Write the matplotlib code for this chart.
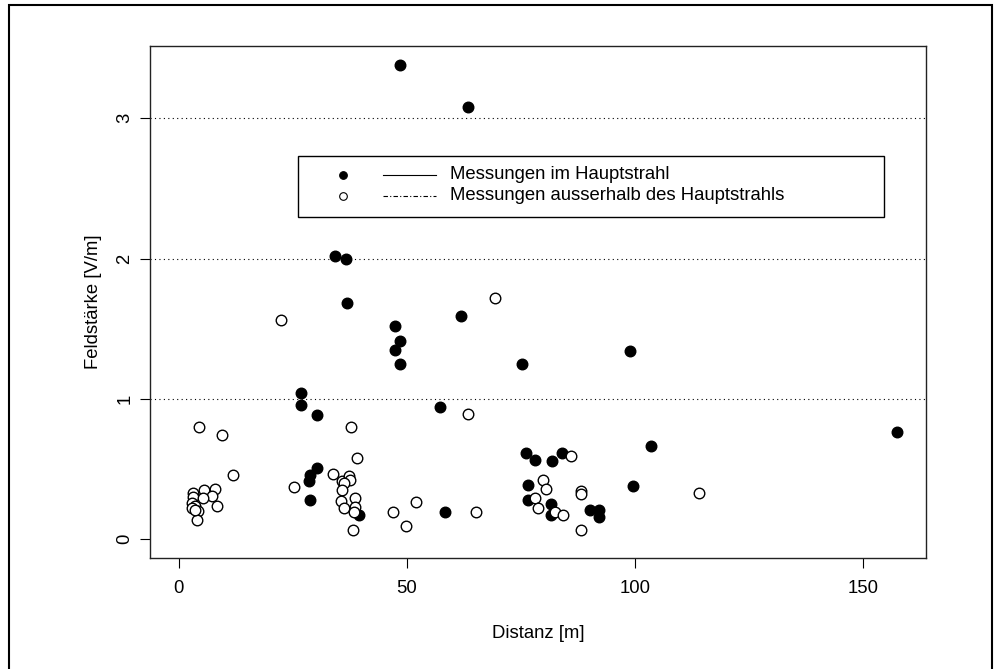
import matplotlib
matplotlib.use("Agg")
import matplotlib.pyplot as plt
from matplotlib.lines import Line2D
from matplotlib.patches import Rectangle

plt.rcParams['font.family'] = ['Liberation Sans', 'DejaVu Sans']

# Messungen im Hauptstrahl (gefuellte Punkte)
dist_main = [48.5, 63.4, 34.2, 36.6, 36.8, 61.9, 47.4, 48.6, 47.4, 48.6, 75.3,
             26.9, 26.7, 30.2, 30.2, 28.7, 28.5, 28.7, 39.5, 57.2, 76.2, 78.1,
             81.8, 84.1, 103.5, 99.5, 76.6, 76.6, 81.6, 81.6, 90.1, 92.1, 92.1,
             58.4, 98.9, 157.5]
feld_main = [3.38, 3.08, 2.02, 2.00, 1.68, 1.59, 1.52, 1.41, 1.35, 1.25, 1.25,
             1.04, 0.955, 0.886, 0.505, 0.455, 0.414, 0.28, 0.175, 0.945, 0.61, 0.565,
             0.557, 0.61, 0.665, 0.376, 0.386, 0.28, 0.252, 0.171, 0.205, 0.205, 0.157,
             0.195, 1.34, 0.76]

# Messungen ausserhalb des Hauptstrahls (offene Punkte)
dist_side = [69.4, 22.5, 4.5, 37.7, 9.5, 39.1, 11.9, 25.3, 33.9, 35.7, 37.3,
             37.5, 36.3, 35.7, 35.5, 38.6, 36.2, 38.6, 38.4, 38.3, 47.0,
             3.1, 3.1, 5.5, 8.0, 7.4, 5.3, 3.0, 3.5, 4.2, 8.3, 3.9, 3.0, 3.5,
             63.5, 86.0, 79.8, 80.5, 88.2, 88.2, 78.1, 78.7, 82.4, 84.3, 88.2,
             52.0, 49.9, 65.1, 114.0]
feld_side = [1.72, 1.56, 0.80, 0.80, 0.74, 0.58, 0.455, 0.374, 0.467, 0.414, 0.45,
             0.42, 0.40, 0.35, 0.27, 0.295, 0.22, 0.23, 0.19, 0.065, 0.195,
             0.33, 0.30, 0.35, 0.36, 0.31, 0.295, 0.26, 0.235, 0.20, 0.235, 0.135, 0.22, 0.21,
             0.895, 0.595, 0.42, 0.355, 0.343, 0.324, 0.295, 0.224, 0.195, 0.174, 0.064,
             0.264, 0.093, 0.195, 0.33]

x_ticks = [0, 50, 100, 150]
y_ticks = [0, 1, 2, 3]
ref_lines = [1, 2, 3]
legend_labels = ["Messungen im Hauptstrahl", "Messungen ausserhalb des Hauptstrahls"]

FS = 13.3

fig = plt.figure(figsize=(9.96, 6.69), dpi=100)
ax = fig.add_axes([0.1506, 0.1659, 0.7791, 0.7653])

# R style axis limits (4 % extension)
xr = (0, max(dist_main + dist_side))
yr = (0, max(feld_main + feld_side))
ax.set_xlim(xr[0] - 0.04 * (xr[1] - xr[0]), xr[1] + 0.04 * (xr[1] - xr[0]))
ax.set_ylim(yr[0] - 0.04 * (yr[1] - yr[0]), yr[1] + 0.04 * (yr[1] - yr[0]))

for v in ref_lines:
    ax.axhline(v, color='black', linestyle=(0, (1, 3)), linewidth=0.8, zorder=1)

ax.plot(dist_main, feld_main, 'o', ms=7.6, mfc='black', mec='black', mew=1.0, zorder=3)
ax.plot(dist_side, feld_side, 'o', ms=7.6, mfc='white', mec='black', mew=1.0, zorder=3)

ax.set_xticks(x_ticks)
ax.set_yticks(y_ticks)
ax.tick_params(direction='out', length=7, width=0.8, labelsize=FS)
ax.tick_params(axis='x', pad=9)
ax.tick_params(axis='y', pad=5)
for lab in ax.get_yticklabels():
    lab.set_rotation(90)
    lab.set_va('center')
for s in ax.spines.values():
    s.set_linewidth(1.0)
    s.set_color('#222222')

ax.set_xlabel("Distanz [m]", fontsize=FS, labelpad=20)
ax.set_ylabel("Feldstärke [V/m]", fontsize=FS, labelpad=10)

# legend drawn like R's legend(): marker column, line column, text
lx0, ly0, lw, lh = 298, 156, 586, 61  # figure pixels (from top)
W, H = 996.0, 669.0
fig.patches.append(Rectangle((lx0 / W, 1 - (ly0 + lh) / H), lw / W, lh / H,
                             transform=fig.transFigure, fill=True, facecolor='white',
                             edgecolor='black', linewidth=1.0, zorder=5))
rows = [175, 196]
styles = [('black', '-'), ('white', (0, (4, 2, 1, 2)))]
for (fc, ls), yy, txt in zip(styles, rows, legend_labels):
    yf = 1 - yy / H
    fig.lines.append(Line2D([343 / W], [yf], marker='o', ms=5.5, mfc=fc, mec='black',
                            mew=0.8, transform=fig.transFigure, zorder=6))
    fig.lines.append(Line2D([383 / W, 436 / W], [yf, yf], color='black', linestyle=ls,
                            linewidth=0.8, transform=fig.transFigure, zorder=6))
    fig.text(450 / W, yf, txt, fontsize=FS, va='center', ha='left', zorder=6)

# outer frame
fig.patches.append(Rectangle((9 / W, -0.01), 983 / W, 1 - 5 / H + 0.01,
                             transform=fig.transFigure, fill=False,
                             edgecolor='black', linewidth=1.5))

fig.savefig("out.png", dpi=100)
